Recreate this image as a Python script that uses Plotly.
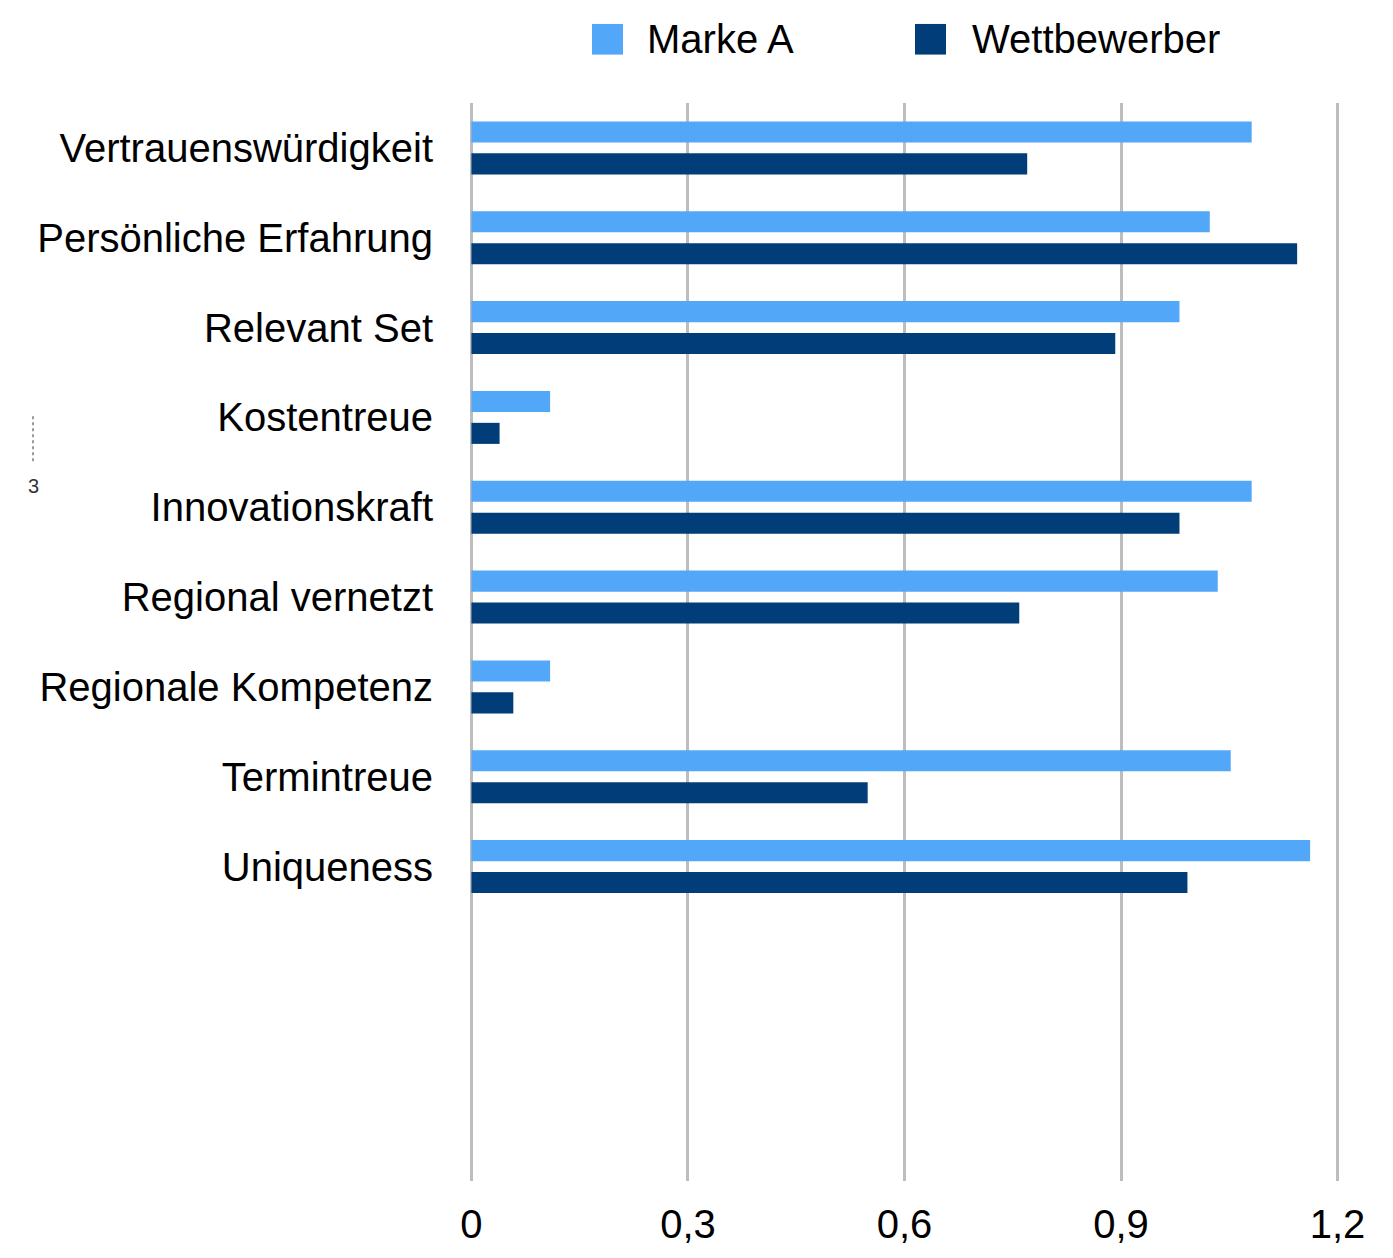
import plotly.graph_objects as go

categories = ["Vertrauenswürdigkeit", "Persönliche Erfahrung", "Relevant Set", "Kostentreue",
              "Innovationskraft", "Regional vernetzt", "Regionale Kompetenz", "Termintreue",
              "Uniqueness"]
series_names = ["Marke A", "Wettbewerber"]
marke_a = [1.081, 1.023, 0.981, 0.109, 1.081, 1.034, 0.109, 1.052, 1.162]
wettbewerber = [0.770, 1.144, 0.892, 0.039, 0.981, 0.759, 0.058, 0.549, 0.992]
x_tickvals = [0, 0.3, 0.6, 0.9, 1.2]
x_ticktext = ["0", "0,3", "0,6", "0,9", "1,2"]
colors = ["#52A7F9", "#003D79"]

FONT = "Liberation Sans, Arial, Helvetica, sans-serif"
OFF = 8  # page body margin
W, H = 1385, 1250
ML, MR, MT, MB = 462, 54, 95, 64
pw = W - ML - MR
ph = H - MT - MB

fig = go.Figure()
for name, vals, col in zip(series_names, [marke_a, wettbewerber], colors):
    fig.add_trace(go.Bar(y=categories, x=vals, name=name, orientation="h",
                         marker=dict(color=col, line=dict(width=0)),
                         showlegend=False))

def px_x(px):
    return (px - OFF - ML) / pw

def px_y(py):
    return 1 + (MT - (py - OFF)) / ph

shapes = []
annotations = []
legend_pos = [(592, 647), (915, 972)]
for (sx, tx), name, col in zip(legend_pos, series_names, colors):
    shapes.append(dict(type="rect", xref="paper", yref="paper",
                       x0=px_x(sx), x1=px_x(sx + 31), y0=px_y(54), y1=px_y(23),
                       fillcolor=col, line=dict(width=0)))
    annotations.append(dict(text=name, xref="paper", yref="paper", x=px_x(tx - 2), y=px_y(38),
                            xanchor="left", yanchor="middle", showarrow=False,
                            font=dict(size=40, color="#000000", family=FONT)))

# stray marker at the left edge of the reference
shapes.append(dict(type="line", xref="paper", yref="paper",
                   x0=px_x(33), x1=px_x(33), y0=px_y(420), y1=px_y(466),
                   line=dict(color="#9a9a9a", width=2, dash="3px,3px")))
annotations.append(dict(text="3", xref="paper", yref="paper", x=px_x(33), y=px_y(491),
                        xanchor="center", yanchor="middle", showarrow=False,
                        font=dict(size=20, color="#333333", family=FONT)))

fig.update_layout(
    width=W, height=H,
    margin=dict(l=ML, r=MR, t=MT, b=MB, pad=0),
    paper_bgcolor="white", plot_bgcolor="white",
    barmode="group", bargap=0.29, bargroupgap=0.34,
    font=dict(family=FONT, size=40, color="#000000"),
    shapes=shapes, annotations=annotations,
    xaxis=dict(range=[-0.002, 1.202], tickvals=x_tickvals, ticktext=x_ticktext,
               showgrid=True, gridcolor="#BDBDBD", gridwidth=2.5,
               zeroline=True, zerolinecolor="#BDBDBD", zerolinewidth=2.5,
               showline=False, ticks="",
               ticklabelstandoff=16,
               tickfont=dict(size=40, color="#000000", family=FONT)),
    yaxis=dict(type="category", range=[11.5, -0.5], showgrid=False, zeroline=False,
               showline=False, ticks="", ticklabelstandoff=36,
               tickfont=dict(size=40, color="#000000", family=FONT)),
)

fig.write_html("out.html")
